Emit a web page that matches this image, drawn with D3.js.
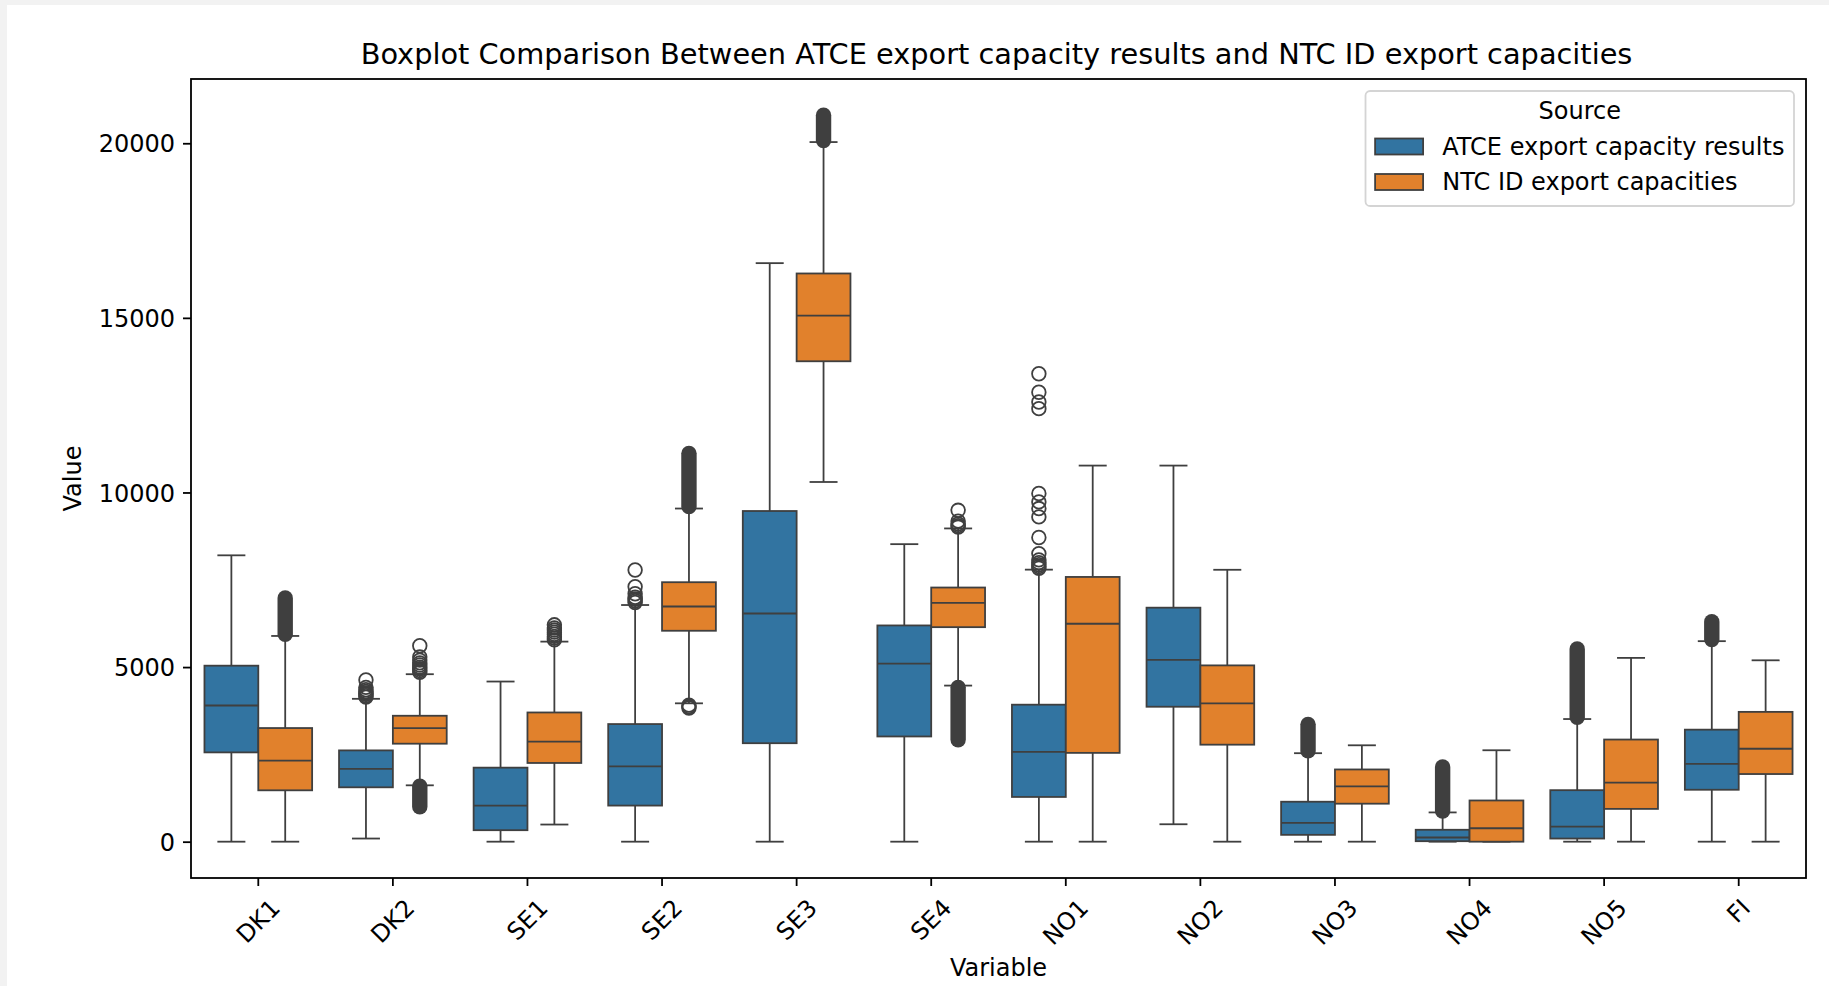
<!DOCTYPE html>
<html>
<head>
<meta charset="utf-8">
<script src="https://cdn.jsdelivr.net/npm/d3@7"></script>
<style>
  html, body { margin: 0; padding: 0; background: #f2f2f2; }
  svg { display: block; }
  text { font-family: "DejaVu Sans", sans-serif; fill: #000; }
</style>
</head>
<body>
<div id="chart"></div>
<script>
const categories = ['DK1', 'DK2', 'SE1', 'SE2', 'SE3', 'SE4', 'NO1', 'NO2', 'NO3', 'NO4', 'NO5', 'FI'];
const sources = ['ATCE export capacity results', 'NTC ID export capacities'];
const palette = ['#3274a1', '#e1812c'];
const yTicks = [0, 5000, 10000, 15000, 20000];

// ATCE export capacity results (blue)
const atceLow    = [0, 90, 0, 0, 0, 0, 0, 499, 0, 0, 0, 0];
const atceQ1     = [2557, 1557, 329, 1034, 2820, 3013, 1281, 3864, 196, 14, 90, 1487];
const atceMedian = [3900, 2083, 1034, 2157, 6534, 5096, 2573, 5204, 538, 120, 430, 2230];
const atceQ3     = [5040, 2614, 2120, 3368, 9469, 6192, 3923, 6701, 1144, 341, 1475, 3208];
const atceHigh   = [8200, 4091, 4586, 6777, 16567, 8520, 7790, 10770, 2534, 838, 3512, 5742];
const atceFliers = [
    [],
    [4140, 4180, 4220, 4260, 4300, 4350, 4420, 4630],
    [],
    [6850, 6900, 6950, 7000, 7100, 7300, 7780],
    [],
    [],
    [7830, 7880, 7930, 7990, 8070, 8250, 8710, 9300, 9540, 9730, 9970, 12400, 12590, 12870, 13400],
    [], [], [], [], []
];
// dense flier runs, drawn as one solid column [from, to]
const atceFlierRuns = [null, null, null, null, null, null, null, null,
    [2600, 3360], [880, 2140], [3560, 5520], [5790, 6300]];

// NTC ID export capacities (orange)
const ntcLow    = [0, 1614, 491, 3962, 10300, 4470, 0, 0, 0, 0, 0, 0];
const ntcQ1     = [1471, 2806, 2254, 6040, 13757, 6143, 2543, 2778, 1088, 0, 939, 1937];
const ntcMedian = [2320, 3254, 2863, 6735, 15063, 6838, 6241, 3962, 1586, 384, 1692, 2661];
const ntcQ3     = [3254, 3606, 3700, 7430, 16271, 7278, 7581, 5048, 2068, 1180, 2925, 3717];
const ntcHigh   = [5891, 4796, 5729, 9540, 20034, 8970, 10770, 7786, 2760, 2618, 5263, 5194];
const ntcFliers = [
    [],
    [4850, 4900, 4950, 5000, 5060, 5120, 5200, 5290, 5610],
    [5780, 5830, 5880, 5940, 6000, 6060, 6120, 6210],
    [3830, 3870, 3910],
    [],
    [9010, 9050, 9100, 9180, 9490],
    [], [], [], [], [], []
];
const ntcFlierRuns = [[5940, 6980], [1000, 1590], null, [9600, 11120], [20080, 20800], [2920, 4420],
    null, null, null, null, null, null];

class BoxplotChart {
    constructor(container) {
        this.container = container;
        this.width = 1829;
        this.height = 986;
        this.plot = { left: 191, right: 1806, top: 79, bottom: 878 };
        this.fontSize = 24;
        this.lineColor = '#3f3f3f';
        this.lineWidth = 1.8;
        this.flierRadius = 6.8;

        this.init();
    }

    init() {
        this.processData();
        this.setupSVG();
        this.setupScales();
        this.drawBoxes();
        this.drawAxes();
        this.drawLegend();
    }

    processData() {
        const build = (source, low, q1, med, q3, high, fliers, runs) => categories.map((c, i) => ({
            category: c, source: source,
            low: low[i], q1: q1[i], median: med[i], q3: q3[i], high: high[i],
            fliers: fliers[i], run: runs[i]
        }));
        this.boxes = [
            ...build(sources[0], atceLow, atceQ1, atceMedian, atceQ3, atceHigh, atceFliers, atceFlierRuns),
            ...build(sources[1], ntcLow, ntcQ1, ntcMedian, ntcQ3, ntcHigh, ntcFliers, ntcFlierRuns)
        ];
    }

    setupSVG() {
        this.svg = d3.select(this.container)
            .append('svg')
            .attr('width', this.width)
            .attr('height', this.height);

        // notebook output cell: grey strip on top and left
        this.svg.append('rect')
            .attr('width', this.width).attr('height', this.height)
            .attr('fill', '#f2f2f2');
        this.svg.append('rect')
            .attr('x', 7).attr('y', 5)
            .attr('width', this.width - 7).attr('height', this.height - 5)
            .attr('fill', '#ffffff');
    }

    setupScales() {
        const p = this.plot;
        const values = this.boxes.flatMap(b => [b.low, b.high, ...b.fliers, ...(b.run || [])]);
        const [lo, hi] = d3.extent(values);
        const pad = (hi - lo) * 0.05;

        this.y = d3.scaleLinear().domain([lo - pad, hi + pad]).range([p.bottom, p.top]);
        this.x = d3.scaleBand().domain(categories).range([p.left, p.right]).padding(0);
        const bw = this.x.bandwidth();
        this.hue = d3.scaleBand().domain(sources).range([0.1 * bw, 0.9 * bw]).padding(0);
        this.color = d3.scaleOrdinal().domain(sources).range(palette);
    }

    drawBoxes() {
        const boxW = this.hue.bandwidth();
        const capW = boxW * 0.52;
        const r = this.flierRadius;
        const sw = this.lineWidth;

        const groups = this.svg.append('g')
            .attr('class', 'boxes')
            .selectAll('g')
            .data(this.boxes)
            .join('g')
            .attr('transform', d => `translate(${this.x(d.category) + this.hue(d.source) + boxW / 2},0)`);

        // whiskers
        groups.append('line')
            .attr('y1', d => this.y(d.low)).attr('y2', d => this.y(d.q1));
        groups.append('line')
            .attr('y1', d => this.y(d.q3)).attr('y2', d => this.y(d.high));

        // caps
        groups.append('line')
            .attr('x1', -capW / 2).attr('x2', capW / 2)
            .attr('y1', d => this.y(d.low)).attr('y2', d => this.y(d.low));
        groups.append('line')
            .attr('x1', -capW / 2).attr('x2', capW / 2)
            .attr('y1', d => this.y(d.high)).attr('y2', d => this.y(d.high));

        groups.selectAll('line')
            .attr('stroke', this.lineColor)
            .attr('stroke-width', sw);

        // box
        groups.append('rect')
            .attr('x', -boxW / 2)
            .attr('width', boxW)
            .attr('y', d => this.y(d.q3))
            .attr('height', d => this.y(d.q1) - this.y(d.q3))
            .attr('fill', d => this.color(d.source))
            .attr('stroke', this.lineColor)
            .attr('stroke-width', sw);

        // median
        groups.append('line')
            .attr('x1', -boxW / 2).attr('x2', boxW / 2)
            .attr('y1', d => this.y(d.median)).attr('y2', d => this.y(d.median))
            .attr('stroke', this.lineColor)
            .attr('stroke-width', sw);

        // dense flier runs
        groups.filter(d => d.run)
            .append('rect')
            .attr('x', -r - sw / 2)
            .attr('width', 2 * r + sw)
            .attr('y', d => this.y(d.run[1]) - r - sw / 2)
            .attr('height', d => this.y(d.run[0]) - this.y(d.run[1]) + 2 * r + sw)
            .attr('rx', r + sw / 2)
            .attr('fill', this.lineColor);

        // single fliers
        groups.selectAll('circle')
            .data(d => d.fliers)
            .join('circle')
            .attr('cx', 0)
            .attr('cy', v => this.y(v))
            .attr('r', r)
            .attr('fill', 'none')
            .attr('stroke', this.lineColor)
            .attr('stroke-width', sw);
    }

    drawAxes() {
        const p = this.plot;
        const fs = this.fontSize;

        const xAxis = this.svg.append('g')
            .attr('transform', `translate(0,${p.bottom})`)
            .call(d3.axisBottom(this.x).tickSize(8).tickSizeOuter(0));
        xAxis.select('.domain').remove();
        xAxis.selectAll('line').attr('stroke', '#000').attr('stroke-width', this.lineWidth);
        xAxis.selectAll('text')
            .attr('font-family', '"DejaVu Sans", sans-serif')
            .attr('font-size', fs)
            .attr('fill', '#000')
            .attr('y', null)
            .attr('dy', null)
            .attr('text-anchor', 'middle')
            .attr('dominant-baseline', 'central')
            .each(function () {
                // rotated 45deg about its centre, bbox top just below the tick
                const w = this.getComputedTextLength();
                const off = 16 + (w + fs * 1.164) * Math.SQRT1_2 / 2;
                d3.select(this).attr('transform', `translate(0,${off}) rotate(-45)`);
            });

        const yAxis = this.svg.append('g')
            .attr('transform', `translate(${p.left},0)`)
            .call(d3.axisLeft(this.y).tickValues(yTicks).tickSize(8).tickPadding(8).tickFormat(d3.format('d')));
        yAxis.select('.domain').remove();
        yAxis.selectAll('line').attr('stroke', '#000').attr('stroke-width', this.lineWidth);
        yAxis.selectAll('text')
            .attr('font-family', '"DejaVu Sans", sans-serif')
            .attr('font-size', fs)
            .attr('fill', '#000')
            .attr('dy', '0.36em');

        // frame
        this.svg.append('rect')
            .attr('x', p.left).attr('y', p.top)
            .attr('width', p.right - p.left).attr('height', p.bottom - p.top)
            .attr('fill', 'none')
            .attr('stroke', '#000')
            .attr('stroke-width', this.lineWidth);

        // labels
        this.svg.append('text')
            .attr('x', (p.left + p.right) / 2)
            .attr('y', 968)
            .attr('text-anchor', 'middle')
            .attr('dominant-baseline', 'central')
            .attr('font-size', fs)
            .text('Variable');

        this.svg.append('text')
            .attr('transform', `translate(73,${(p.top + p.bottom) / 2}) rotate(-90)`)
            .attr('text-anchor', 'middle')
            .attr('dominant-baseline', 'central')
            .attr('font-size', fs)
            .text('Value');

        this.svg.append('text')
            .attr('x', (p.left + p.right) / 2 - 2)
            .attr('y', 64)
            .attr('text-anchor', 'middle')
            .attr('font-size', fs * 1.2)
            .text('Boxplot Comparison Between ATCE export capacity results and NTC ID export capacities');
    }

    drawLegend() {
        const p = this.plot;
        const fs = this.fontSize;
        const pad = 0.4 * fs, handleW = 2 * fs, handleH = 16, textPad = 0.8 * fs;

        const g = this.svg.append('g').attr('class', 'legend');
        const frame = g.append('rect');

        const labels = g.selectAll('text.entry')
            .data(sources)
            .join('text')
            .attr('class', 'entry')
            .attr('font-size', fs)
            .attr('dominant-baseline', 'central')
            .text(d => d);
        const textW = d3.max(labels.nodes(), n => n.getComputedTextLength());

        const boxW = pad + handleW + textPad + textW + pad;
        const boxH = 115;
        const x0 = p.right - 12 - boxW;
        const y0 = p.top + 12;

        frame.attr('x', x0).attr('y', y0)
            .attr('width', boxW).attr('height', boxH)
            .attr('rx', 4.6)
            .attr('fill', 'rgba(255,255,255,0.8)')
            .attr('stroke', '#d4d4d4')
            .attr('stroke-width', 1.8);

        g.append('text')
            .attr('x', x0 + boxW / 2)
            .attr('y', y0 + 20)
            .attr('text-anchor', 'middle')
            .attr('dominant-baseline', 'central')
            .attr('font-size', fs)
            .text('Source');

        const rowY = i => y0 + 55.5 + i * 35.5;

        labels.attr('x', x0 + pad + handleW + textPad)
            .attr('y', (d, i) => rowY(i));

        g.selectAll('rect.handle')
            .data(sources)
            .join('rect')
            .attr('class', 'handle')
            .attr('x', x0 + pad)
            .attr('y', (d, i) => rowY(i) - handleH / 2)
            .attr('width', handleW)
            .attr('height', handleH)
            .attr('fill', d => this.color(d))
            .attr('stroke', this.lineColor)
            .attr('stroke-width', this.lineWidth);
    }
}

new BoxplotChart(document.getElementById('chart'));
</script>
</body>
</html>
